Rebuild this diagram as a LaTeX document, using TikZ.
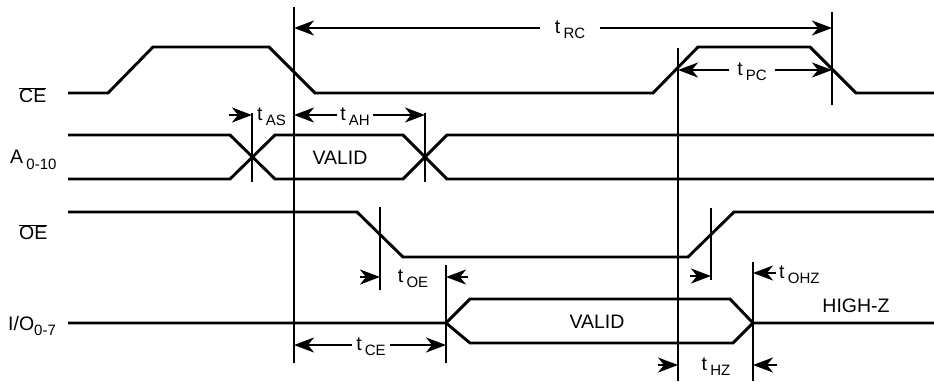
\documentclass[tikz,border=0pt]{standalone}
\usepackage{fontspec}
\setmainfont{Liberation Sans}
\usetikzlibrary{arrows.meta,positioning}

\newcommand{\tm}[1]{t\,\raisebox{-0.5ex}{\fontsize{15}{16}\selectfont #1}}

\begin{document}
\begin{tikzpicture}[x=1pt, y=-1pt,
  segnale/.style={line width=2.9pt, line join=miter},
  guida/.style={line width=2.7pt},
  quota/.style={line width=2.2pt, -{Stealth[length=20pt,width=15pt,inset=6pt]}},
  etic/.style={font=\fontsize{19.5}{22}\selectfont, inner ysep=1pt},
  nome/.style={font=\fontsize{19.5}{22}\selectfont, anchor=west, inner sep=0pt}]
\useasboundingbox (0,0) rectangle (934,381);

% nomi dei segnali
\node[nome] (lblCE) at (19,95)  {$\overline{\mbox{CE}}$};
\node[nome] (lblA)  at (10,160) {A\,\raisebox{-0.6ex}{\fontsize{15}{16}\selectfont 0-10}};
\node[nome] (lblOE) at (19,232) {$\overline{\mbox{OE}}$};
\node[nome] (lblIO) at (8,326)  {I/O\raisebox{-0.5ex}{\fontsize{15}{16}\selectfont 0-7}};

% forme d'onda
\draw[segnale] (68,93) -- (108,93) -- (153,47) -- (269,47) -- (315,93) -- (653,93)
      -- (698,47) -- (810,47) -- (856,93) -- (934,93);
\draw[segnale] (68,135) -- (230,135) -- (275,179) -- (403,179) -- (447,135) -- (934,135);
\draw[segnale] (68,179) -- (230,179) -- (275,135) -- (403,135) -- (447,179) -- (934,179);
\draw[segnale] (68,212) -- (357,212) -- (403,257) -- (688,257) -- (734,212) -- (934,212);
\draw[segnale] (68,323) -- (446,323) -- (470,299) -- (730,299) -- (753,323) -- (934,323);
\draw[segnale] (446,323) -- (470,343) -- (733,343) -- (753,323);

\node[etic] (valA)  at (340,158) {VALID};
\node[etic] (valIO) at (597,322) {VALID};
\node[etic] (hiz)   at (856,306) {HIGH-Z};

% linee di riferimento
\foreach \n/\x/\ya/\yb in {rca/294/7/363, rcb/832/12/105, pc/678/48/381, as/252/113/182,
    ah/425/113/182, oe/380/207/290, ce/446/265/363, ohz/711/208/280, hz/753/262/381} {
  \coordinate (\n t) at (\x,\ya);
  \coordinate (\n b) at (\x,\yb);
  \draw[guida] (\n t) -- (\n b);
}

% quote temporali
\node[etic, inner xsep=15pt] (tRC) at (570,30) {\tm{RC}};
\draw[quota] (tRC.west |- 0,28) -- (rcat |- 0,28);
\draw[quota] (tRC.east |- 0,28) -- (rcbt |- 0,28);

\node[etic, inner xsep=8pt] (tPC) at (752,72) {\tm{PC}};
\draw[quota] (tPC.west |- 0,70) -- (pct |- 0,70);
\draw[quota] (tPC.east |- 0,70) -- (rcbt |- 0,70);

\coordinate (qas) at (229,115);
\draw[quota] (qas) -- (qas -| ast);
\node[etic, anchor=west, inner xsep=0pt] (tAS) at (257,117) {\tm{AS}};

\node[etic, inner xsep=3pt] (tAH) at (355,117) {\tm{AH}};
\draw[quota] (tAH.west |- 0,115) -- (rcat |- 0,115);
\draw[quota] (tAH.east |- 0,115) -- (aht |- 0,115);

\coordinate (qoea) at (360,277);
\coordinate (qoeb) at (468,277);
\draw[quota] (qoea) -- (qoea -| oet);
\draw[quota] (qoeb) -- (qoeb -| cet);
\node[etic] (tOE) at (413,279) {\tm{OE}};

\node[etic, inner xsep=4pt] (tCE) at (371,347) {\tm{CE}};
\draw[quota] (tCE.west |- 0,345) -- (rcat |- 0,345);
\draw[quota] (tCE.east |- 0,345) -- (cet |- 0,345);

\coordinate (qohza) at (690,276);
\coordinate (qohzb) at (776,273);
\draw[quota] (qohza) -- (qohza -| ohzt);
\draw[quota] (qohzb) -- (qohzb -| hzt);
\node[etic, anchor=west, inner xsep=0pt] (tOHZ) at (779,275) {\tm{OHZ}};

\coordinate (qhza) at (658,365);
\coordinate (qhzb) at (777,365);
\draw[quota] (qhza) -- (qhza -| pct);
\draw[quota] (qhzb) -- (qhzb -| hzt);
\node[etic] (tHZ) at (716,367) {\tm{HZ}};
\end{tikzpicture}
\end{document}
